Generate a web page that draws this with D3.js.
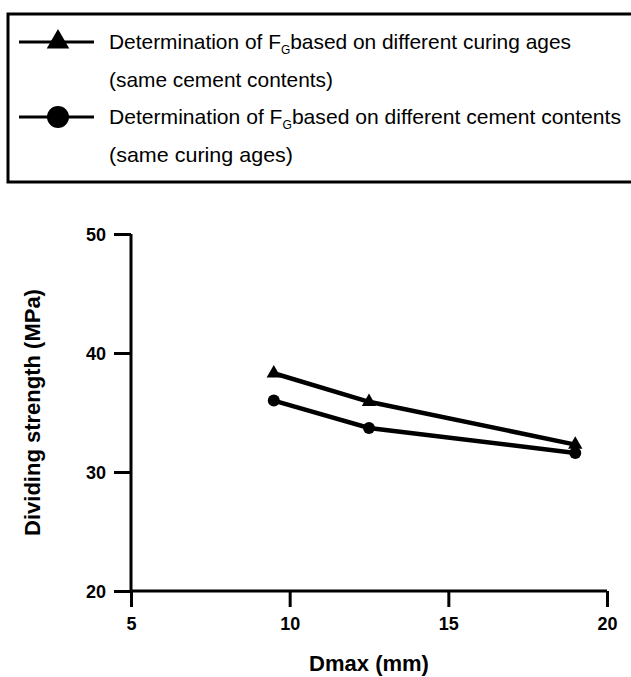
<!DOCTYPE html>
<meta charset="utf-8">
<style>
  body { margin: 0; background: #fff; }
  svg text { font-family: "Liberation Sans", Arial, sans-serif; fill: #000; }
  .tick text { font-size: 18px; font-weight: bold; }
  .axis path, .axis line { stroke: #000; stroke-width: 3px; }
</style>
<body>
<div id="chart"></div>
<script src="https://cdn.jsdelivr.net/npm/d3@7"></script>
<script>
  // data
  var dmax = [9.5, 12.5, 19];
  var curingAges = [38.3, 35.9, 32.3];     // triangles
  var cementContents = [36.0, 33.7, 31.6]; // circles
  var xTicks = [5, 10, 15, 20];
  var yTicks = [20, 30, 40, 50];

  var width = 631, height = 677;
  var margin = {left: 131, right: 24, top: 234, bottom: 86};

  var svg = d3.select("#chart").append("svg")
    .attr("width", width)
    .attr("height", height);

  var x = d3.scaleLinear().domain([5, 20]).range([margin.left, width - margin.right]);
  var y = d3.scaleLinear().domain([20, 50]).range([height - margin.bottom, margin.top]);

  // axes
  var xAxis = svg.append("g")
    .attr("class", "axis")
    .attr("transform", "translate(0," + y(20) + ")")
    .call(d3.axisBottom(x).tickValues(xTicks).tickSize(16).tickSizeOuter(0).tickPadding(10));
  xAxis.select(".domain").attr("d", "M" + x(5) + ",0H" + x(20));

  var yAxis = svg.append("g")
    .attr("class", "axis")
    .attr("transform", "translate(" + x(5) + ",0)")
    .call(d3.axisLeft(y).tickValues(yTicks).tickSize(17).tickSizeOuter(0).tickPadding(8));
  yAxis.select(".domain").attr("d", "M0," + y(20) + "V" + y(50));
  yAxis.selectAll(".tick text").attr("dy", "0.36em");

  // axis titles
  svg.append("text")
    .attr("x", (x(5) + x(20)) / 2)
    .attr("y", 671)
    .attr("text-anchor", "middle")
    .style("font-size", "22px")
    .style("font-weight", "bold")
    .text("Dmax (mm)");

  svg.append("text")
    .attr("transform", "translate(40," + (y(20) + y(50)) / 2 + ") rotate(-90)")
    .attr("text-anchor", "middle")
    .style("font-size", "22px")
    .style("font-weight", "bold")
    .text("Dividing strength (MPa)");

  // series
  var line = d3.line()
    .x(function(d) { return x(d[0]); })
    .y(function(d) { return y(d[1]); });

  var triData = d3.zip(dmax, curingAges);
  var cirData = d3.zip(dmax, cementContents);

  [triData, cirData].forEach(function(s) {
    svg.append("path")
      .datum(s)
      .attr("d", line)
      .attr("fill", "none")
      .attr("stroke", "#000")
      .attr("stroke-width", 4.5);
  });

  var triSym = d3.symbol().type(d3.symbolTriangle).size(90);
  svg.selectAll("path.tri")
    .data(triData)
    .enter().append("path")
    .attr("class", "tri")
    .attr("transform", function(d) { return "translate(" + x(d[0]) + "," + y(d[1]) + ")"; })
    .attr("d", triSym)
    .attr("fill", "#000");

  svg.selectAll("circle.cir")
    .data(cirData)
    .enter().append("circle")
    .attr("class", "cir")
    .attr("cx", function(d) { return x(d[0]); })
    .attr("cy", function(d) { return y(d[1]); })
    .attr("r", 6)
    .attr("fill", "#000");

  // legend
  var legend = svg.append("g");
  legend.append("rect")
    .attr("x", 8).attr("y", 14)
    .attr("width", 640).attr("height", 168)
    .attr("fill", "none")
    .attr("stroke", "#000")
    .attr("stroke-width", 3);

  var legendItems = [
    {sym: "tri", y: 42, main: "based on different curing ages", sub: "(same cement contents)", len: 462, len2: 224},
    {sym: "cir", y: 117, main: "based on different cement contents", sub: "(same curing ages)", len: 512, len2: 184}
  ];

  legendItems.forEach(function(it) {
    legend.append("line")
      .attr("x1", 19).attr("x2", 94)
      .attr("y1", it.y).attr("y2", it.y)
      .attr("stroke", "#000").attr("stroke-width", 3);
    if (it.sym === "tri") {
      legend.append("path")
        .attr("transform", "translate(58," + it.y + ")")
        .attr("d", d3.symbol().type(d3.symbolTriangle).size(220))
        .attr("fill", "#000");
    } else {
      legend.append("circle")
        .attr("cx", 58).attr("cy", it.y).attr("r", 11)
        .attr("fill", "#000");
    }
    var t = legend.append("text")
      .attr("x", 109).attr("y", it.y + 7)
      .style("font-size", "21px")
      .attr("textLength", it.len)
      .attr("lengthAdjust", "spacingAndGlyphs");
    t.append("tspan").text("Determination of F");
    t.append("tspan").attr("dy", 5).style("font-size", "12px").text("G");
    t.append("tspan").attr("dy", -5).text(it.main);

    legend.append("text")
      .attr("x", 109).attr("y", it.y + 45)
      .style("font-size", "21px")
      .attr("textLength", it.len2)
      .attr("lengthAdjust", "spacingAndGlyphs")
      .text(it.sub);
  });
</script>
</body>
</html>
